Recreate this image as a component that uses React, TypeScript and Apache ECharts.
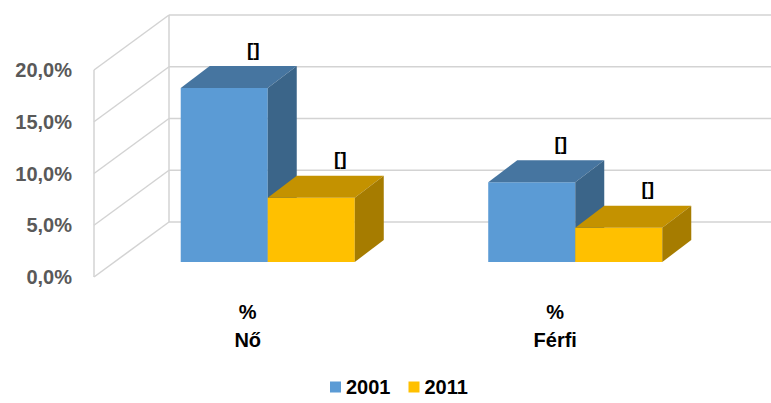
import React, { useEffect, useRef } from "react";
import * as echarts from "echarts";

const categories = ["%\nNő", "%\nFérfi"];
const seriesNames = ["2001", "2011"];
const values2001 = [16.8, 7.7];
const values2011 = [6.2, 3.3];
const dataLabels = ["[]", "[]"];
const yMin = 0;
const yMax = 20;
const yInterval = 5;
const yTicks = [0, 5, 10, 15, 20];

const FONT = "'Liberation Sans', Arial, sans-serif";
const WALL_DX = 75;
const WALL_DY = -55;
const FRONT_DX = 20;
const FRONT_DY = -15;
const BAR_DX = 29;
const BAR_DY = -22;
const BAR_FRAC = 0.283;
const GRID_COLOR = "#d3d3d3";

const palettes = [
  { front: "#5b9bd5", top: "#4675a0", side: "#3b6589" },
  { front: "#ffc000", top: "#c49200", side: "#a67c00" },
];

function barRender(slot: number) {
  const pal = palettes[slot];
  return (params: any, api: any) => {
    const cat = api.value(0);
    const val = api.value(1);
    const base = api.coord([cat, 0]);
    const top = api.coord([cat, val]);
    const band = api.size([1, 0])[0];
    const bw = band * BAR_FRAC;
    const x0 = base[0] - bw + slot * bw + FRONT_DX;
    const yb = base[1] + FRONT_DY;
    const yt = top[1] + FRONT_DY;
    const x1 = x0 + bw;
    return {
      type: "group",
      children: [
        {
          type: "rect",
          shape: { x: x0, y: yt, width: bw, height: yb - yt },
          style: { fill: pal.front },
        },
        {
          type: "polygon",
          shape: {
            points: [
              [x0, yt],
              [x1, yt],
              [x1 + BAR_DX, yt + BAR_DY],
              [x0 + BAR_DX, yt + BAR_DY],
            ],
          },
          style: { fill: pal.top },
        },
        {
          type: "polygon",
          shape: {
            points: [
              [x1, yt],
              [x1 + BAR_DX, yt + BAR_DY],
              [x1 + BAR_DX, yb + BAR_DY],
              [x1, yb],
            ],
          },
          style: { fill: pal.side },
        },
        {
          type: "text",
          x: (x0 + x1) / 2 + BAR_DX,
          y: yt + BAR_DY - 17,
          style: {
            text: dataLabels[params.dataIndex],
            fill: "#000000",
            font: `bold 19px ${FONT}`,
            textAlign: "center",
            textVerticalAlign: "middle",
          },
        },
      ],
    };
  };
}

function wallRender(params: any, api: any) {
  const v = api.value(1);
  const left = params.coordSys.x;
  const p = api.coord([0, v]);
  const y = p[1];
  const width = api.getWidth();
  const style = { stroke: GRID_COLOR, lineWidth: 1.5 };
  const children: any[] = [
    {
      type: "line",
      shape: { x1: left, y1: y, x2: left + WALL_DX, y2: y + WALL_DY },
      style,
    },
    {
      type: "line",
      shape: { x1: left + WALL_DX, y1: y + WALL_DY, x2: width, y2: y + WALL_DY },
      style,
    },
  ];
  if (params.dataIndex === 0) {
    const yTop = api.coord([0, yMax])[1];
    children.push(
      {
        type: "line",
        shape: { x1: left, y1: y, x2: left, y2: yTop },
        style,
      },
      {
        type: "line",
        shape: {
          x1: left + WALL_DX,
          y1: y + WALL_DY,
          x2: left + WALL_DX,
          y2: yTop + WALL_DY,
        },
        style,
      }
    );
  }
  return { type: "group", children };
}

export default function App() {
  const ref = useRef<HTMLDivElement>(null);
  useEffect(() => {
    if (!ref.current) return;
    const chart = echarts.init(ref.current, undefined, { renderer: "svg" });
    chart.setOption({
      animation: false,
      backgroundColor: "#ffffff",
      grid: {
        left: 94,
        right: 62,
        top: 70,
        bottom: 126,
        containLabel: false,
        outerBoundsMode: "none",
      },
      xAxis: {
        type: "category",
        data: categories,
        axisLine: { show: false },
        axisTick: { show: false },
        splitLine: { show: false },
        axisLabel: {
          margin: 21,
          color: "#000000",
          fontWeight: "bold",
          fontSize: 20,
          lineHeight: 28,
          fontFamily: FONT,
        },
      },
      yAxis: {
        type: "value",
        min: yMin,
        max: yMax,
        interval: yInterval,
        axisLine: { show: false },
        axisTick: { show: false },
        splitLine: { show: false },
        axisLabel: {
          margin: 22,
          color: "#595959",
          fontWeight: "bold",
          fontSize: 20,
          fontFamily: FONT,
          formatter: (v: number) => v.toFixed(1).replace(".", ",") + "%",
        },
      },
      legend: {
        data: [
          { name: seriesNames[0], icon: "rect" },
          { name: seriesNames[1], icon: "rect" },
        ],
        left: 330,
        top: 376,
        padding: 0,
        itemWidth: 11,
        itemHeight: 11,
        itemGap: 18,
        textStyle: {
          color: "#000000",
          fontWeight: "bold",
          fontSize: 20,
          lineHeight: 22,
          fontFamily: FONT,
        },
      },
      series: [
        {
          type: "custom",
          name: "walls",
          renderItem: wallRender,
          data: yTicks.map((t) => [0, t]),
          z: 1,
          silent: true,
        },
        {
          type: "custom",
          name: seriesNames[0],
          renderItem: barRender(0),
          itemStyle: { color: palettes[0].front },
          data: values2001.map((v, i) => [i, v]),
          z: 2,
        },
        {
          type: "custom",
          name: seriesNames[1],
          renderItem: barRender(1),
          itemStyle: { color: palettes[1].front },
          data: values2011.map((v, i) => [i, v]),
          z: 3,
        },
      ],
    });
    return () => chart.dispose();
  }, []);
  return (
    <div
      ref={ref}
      style={{ position: "fixed", left: 0, top: 0, width: 771, height: 403 }}
    />
  );
}
